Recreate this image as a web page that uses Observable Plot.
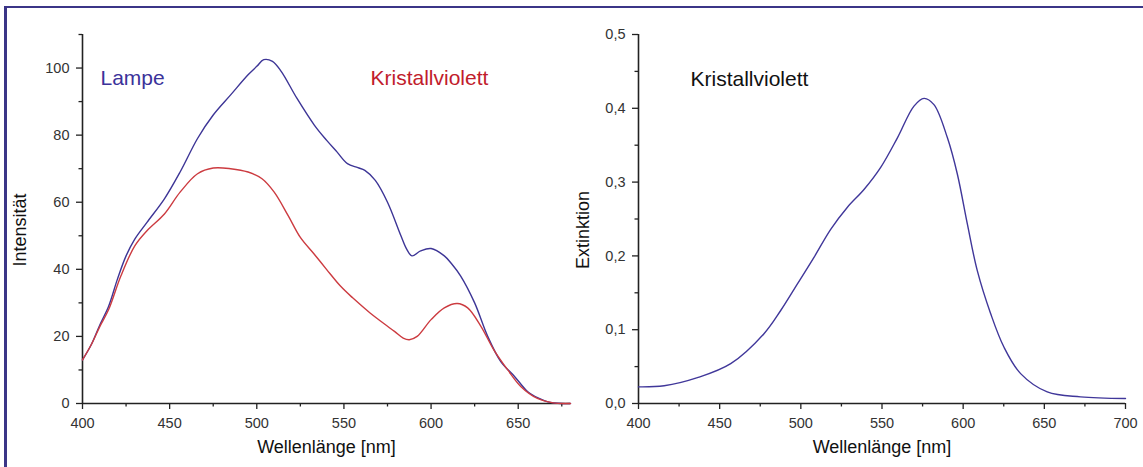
<!DOCTYPE html>
<html>
<head>
<meta charset="utf-8">
<script src="https://cdn.jsdelivr.net/npm/d3@7"></script>
<script src="https://cdn.jsdelivr.net/npm/@observablehq/plot@0.6"></script>
<style>
  body { margin: 0; background: #fff; }
  #wrap { position: relative; width: 1143px; height: 467px; background: #fff; overflow: hidden; font-family: "Liberation Sans", Arial, sans-serif; }
  #frame { position: absolute; left: 4px; top: 6px; right: -20px; bottom: -20px; border-left: 3px solid #3b3587; border-top: 2.5px solid #3b3587; z-index: 5; pointer-events: none; }
  #left { position: absolute; left: 0; top: 0; }
  #right { position: absolute; left: 600px; top: 0; }
</style>
</head>
<body>
<div id="wrap">
  <div id="frame"></div>
  <div id="left"></div>
  <div id="right"></div>
</div>
<script>
// ---- Left chart: Intensität ----
const lampeNm = [400,405,410,415,420,425,430,437,447,456,466,475,485,495,500,504,509,514,523,533,540,546,552,558,562,568,575,582.7,586,589,594,600,607.6,612,617,625,632.5,640,648,655.5,662,667,675,680];
const lampeI  = [13,17.5,23.5,29,37,44,49,54,61,69,79,86,92,98,100.5,102.5,102,99,91,83,78.5,75,71.5,70.3,69.5,66.5,60,50,46,44,45.5,46.2,44,41.5,38,30,20,12.5,8,3.5,1.5,0.5,0,0];

const kvNm = [400,405,410,415,422,430,437,447,456,466,475,485,495,503,510,518,525,533,540,548,555,565,579,584,587.5,592,600,607.6,615,621,628.6,636,644,651.6,661,670,680];
const kvI  = [13,17.5,23,28,38,47,51.5,56.5,63,68.5,70.2,70,69,67,63,56,49.5,44.5,40,35,31.5,27,21.5,19.5,19,20,25,28.5,29.8,28.5,23,16,10,5,1.5,0.2,0];

const leftMajorX = [400,450,500,550,600,650];
const leftMinorX = [425,475,525,575,625,675];
const leftMajorY = [0,20,40,60,80,100];
const leftMinorY = [10,30,50,70,90,110];

// ---- Right chart: Extinktion ----
const extNm = [400,415.8,436.3,456.8,477.3,487.6,497.9,508.1,518.4,528.7,538.9,549.2,559.5,569.7,575.9,582,590.3,596.4,602.6,608.7,616.9,625.1,635.4,651.8,672.3,700];
const extE  = [0.0225,0.024,0.035,0.054,0.0946,0.126,0.162,0.198,0.236,0.266,0.29,0.32,0.36,0.403,0.4135,0.405,0.36,0.311,0.243,0.18,0.122,0.0765,0.0405,0.0157,0.009,0.0068];

const rightMajorX = [400,450,500,550,600,650,700];
const rightMinorX = [425,475,525,575,625,675];
const rightMajorY = [0,0.1,0.2,0.3,0.4,0.5];
const rightMinorY = [0.05,0.15,0.25,0.35,0.45];

const lampeData = lampeNm.map((x, i) => ({nm: x, v: lampeI[i]}));
const kvData = kvNm.map((x, i) => ({nm: x, v: kvI[i]}));
const extData = extNm.map((x, i) => ({nm: x, v: extE[i]}));

const FONT = "'Liberation Sans', Arial, Helvetica, sans-serif";
const axisColor = "#222";
const tickText = "#333";

function axes(majX, minX, majY, minY, fmtY) {
  return [
    Plot.axisX({ticks: majX, tickSize: 6, tickPadding: 8, fontSize: 14.5, stroke: axisColor, strokeWidth: 1.3, color: tickText, label: null, tickFormat: d => String(d)}),
    Plot.axisX({ticks: minX, tickSize: 3.5, stroke: axisColor, strokeWidth: 1.3, label: null, tickFormat: () => ""}),
    Plot.axisY({ticks: majY, tickSize: 6, tickPadding: 7, fontSize: 14.5, stroke: axisColor, strokeWidth: 1.3, color: tickText, label: null, tickFormat: fmtY}),
    Plot.axisY({ticks: minY, tickSize: 3.5, stroke: axisColor, strokeWidth: 1.3, label: null, tickFormat: () => ""})
  ];
}

const left = Plot.plot({
  width: 600, height: 467,
  marginLeft: 82, marginRight: 30, marginTop: 34, marginBottom: 64,
  style: {background: "transparent", fontFamily: FONT, overflow: "visible"},
  x: {domain: [400, 680], label: null},
  y: {domain: [0, 110], label: null},
  marks: [
    ...axes(leftMajorX, leftMinorX, leftMajorY, leftMinorY, d => String(d)),
    Plot.ruleY([0], {stroke: axisColor, strokeWidth: 1.6}),
    Plot.ruleX([400], {stroke: axisColor, strokeWidth: 1.6}),
    Plot.line(lampeData, {x: "nm", y: "v", stroke: "#3d3596", strokeWidth: 1.4, curve: "catmull-rom"}),
    Plot.line(kvData, {x: "nm", y: "v", stroke: "#cc3b40", strokeWidth: 1.4, curve: "catmull-rom"}),
    Plot.text(["Lampe"], {frameAnchor: "top-left", dx: 18, dy: 36, textAnchor: "start", fontSize: 21, fill: "#3b329a", text: d => d}),
    Plot.text(["Kristallviolett"], {frameAnchor: "top-left", dx: 288, dy: 36, textAnchor: "start", fontSize: 21, fill: "#c11c2c", text: d => d}),
    Plot.text(["Wellenlänge [nm]"], {frameAnchor: "bottom", dy: 49, fontSize: 18, fill: "#111", text: d => d}),
    Plot.text(["Intensität"], {frameAnchor: "left", textAnchor: "middle", dx: -62, dy: 11, rotate: -90, fontSize: 18, fill: "#111", text: d => d})
  ]
});
document.getElementById("left").appendChild(left);

const right = Plot.plot({
  width: 543, height: 467,
  marginLeft: 38, marginRight: 18, marginTop: 34, marginBottom: 64,
  style: {background: "transparent", fontFamily: FONT, overflow: "visible"},
  x: {domain: [400, 700], label: null},
  y: {domain: [0, 0.5], label: null},
  marks: [
    ...axes(rightMajorX, rightMinorX, rightMajorY, rightMinorY, d => d.toFixed(1).replace(".", ",")),
    Plot.ruleY([0], {stroke: axisColor, strokeWidth: 1.6}),
    Plot.ruleX([400], {stroke: axisColor, strokeWidth: 1.6}),
    Plot.line(extData, {x: "nm", y: "v", stroke: "#40379a", strokeWidth: 1.4, curve: "catmull-rom"}),
    Plot.text(["Kristallviolett"], {frameAnchor: "top-left", dx: 52, dy: 37, textAnchor: "start", fontSize: 21, fill: "#111", text: d => d}),
    Plot.text(["Wellenlänge [nm]"], {frameAnchor: "bottom", dy: 49, fontSize: 18, fill: "#111", text: d => d}),
    Plot.text(["Extinktion"], {frameAnchor: "left", textAnchor: "middle", dx: -55, dy: 11, rotate: -90, fontSize: 18, fill: "#111", text: d => d})
  ]
});
document.getElementById("right").appendChild(right);
</script>
</body>
</html>
